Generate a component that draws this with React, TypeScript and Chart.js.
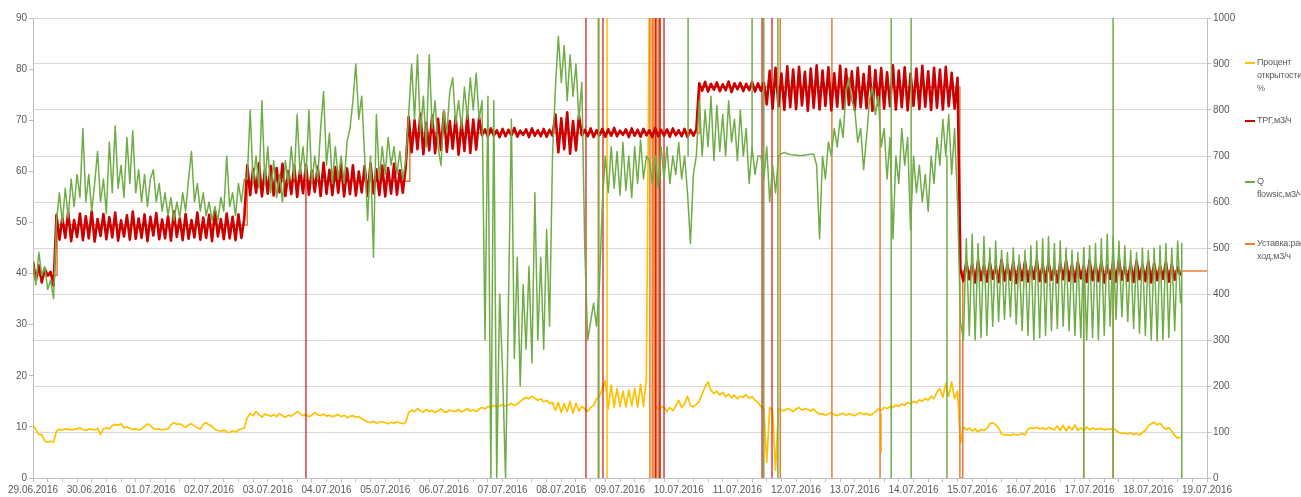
import React, { useEffect, useRef } from 'react';
import { Chart, registerables } from 'chart.js';

Chart.register(...registerables);

// sampling interval of the logged series, in days (x axis unit = day since 29.06.2016)
const STEP = 0.05;

const dateLabels = [
  '29.06.2016', '30.06.2016', '01.07.2016', '02.07.2016', '03.07.2016', '04.07.2016', '05.07.2016',
  '06.07.2016', '07.07.2016', '08.07.2016', '09.07.2016', '10.07.2016', '11.07.2016', '12.07.2016',
  '13.07.2016', '14.07.2016', '15.07.2016', '16.07.2016', '17.07.2016', '18.07.2016', '19.07.2016',
];

// Процент открытости, % (left axis)
const percentOpen = [
  10.3, 9.5, 8.5, 8.5, 7.2, 7.0, 7.2, 7.0,
  9.2, 9.5, 9.4, 9.6, 9.5, 9.4, 9.5,
  9.6, 9.8, 9.5, 9.3, 9.6, 9.5, 9.4, 9.7,
  8.5, 9.6, 9.8, 9.6, 10.2, 10.5, 10.3, 10.6,
  9.8, 10.0, 9.7, 9.5, 9.6, 9.4, 9.6, 10.1,
  10.6, 10.2, 9.7, 9.5, 9.6, 9.4, 9.5, 9.6,
  10.4, 10.8, 10.5, 10.6, 10.3, 9.9, 10.4, 10.6,
  10.2, 9.8, 9.6, 10.5, 10.8, 10.4, 10.1, 9.5,
  9.3, 9.1, 9.4, 9.0, 8.9, 9.2, 9.0, 9.4, 9.6, 9.8,
  11.8, 12.6, 12.2, 13.0, 12.4, 11.9, 12.5, 12.3,
  12.1, 12.4, 12.0, 12.6, 12.2, 11.9, 12.3, 12.1,
  12.5, 13.0, 12.6, 12.2, 12.4, 12.0, 12.3, 12.8,
  12.4, 12.2, 12.5, 12.1, 12.3, 12.0, 12.2, 12.4,
  12.0, 12.3, 11.8, 12.1, 12.2, 11.9, 12.0, 11.6,
  11.3, 11.0, 10.8, 11.1, 10.7, 10.9, 11.0, 10.8,
  10.6, 10.9, 10.7, 11.0, 10.8, 10.6, 10.9,
  12.8, 13.3, 13.0, 13.6, 13.1, 12.9, 13.4, 13.0, 13.2, 12.8,
  13.1, 13.5, 13.0, 12.9, 13.3, 13.1, 13.0, 13.4, 12.9, 13.2,
  13.6, 13.1, 13.3, 13.0, 13.5, 13.8,
  13.5, 14.0, 13.8, 14.2, 13.9, 14.1, 14.4, 14.0, 14.3, 14.6,
  14.2, 14.5, 15.0, 15.4, 15.8, 15.5, 16.0, 15.6, 15.2, 15.5,
  14.9, 15.2, 14.6, 14.8,
  13.2, 14.8, 12.8, 14.5, 13.0, 15.0, 12.7, 14.6, 13.1, 14.0,
  13.5, 13.0, 13.8, 14.2, 15.5, 16.0, 17.5,
  19.0, 13.5, 18.2, 13.8, 17.5, 14.0, 17.0, 13.9, 17.2, 14.1, 17.6, 13.8, 18.3, 14.0, 19.5,
  95, 95, 14.0, 13.5, 14.0, 13.8,
  13.0, 13.8, 13.2, 14.0, 15.2, 13.8, 14.5, 16.0, 14.2, 13.9, 14.4,
  15.0, 16.5, 17.8, 18.8, 17.2, 16.5, 17.0, 16.2, 16.8, 15.9,
  16.4, 15.7, 16.2, 15.5, 16.0, 15.8, 16.3, 15.6, 15.9, 15.2, 14.8,
  14.0, 13.5, 3.0, 13.8, 13.2, 1.5, 13.6, 13.2,
  13.2, 13.6, 13.4, 13.0, 13.5, 13.8, 13.3, 13.6, 13.4, 13.1, 13.5,
  12.8, 12.5, 12.6, 12.3, 12.5, 12.8, 12.4, 12.2, 12.5, 12.7,
  12.3, 12.6, 12.4, 12.2, 12.5, 12.8, 12.4, 12.6, 12.3, 12.5,
  13.0, 13.5, 13.2, 13.8,
  13.6, 14.0, 13.8, 14.3, 14.0, 14.5, 14.2, 14.8, 14.5, 15.0,
  14.7, 15.3, 15.0, 15.6, 15.2, 16.0, 15.5, 16.8, 17.5, 15.8,
  18.5, 16.0, 18.8, 15.5, 17.0,
  6.8, 10.0, 9.4, 9.8, 9.2, 9.6, 9.0, 9.5, 9.3, 9.7,
  10.6, 10.8, 10.4, 9.8, 8.6, 8.4, 8.5, 8.3, 8.6, 8.4,
  8.5, 8.7, 8.4, 9.6, 9.8, 9.7, 9.9, 9.6, 9.8, 9.5,
  9.9, 9.7, 9.4, 10.2, 9.3, 10.3, 9.2, 10.1, 9.4, 10.4,
  9.3, 9.8, 9.2, 10.0, 9.4, 9.8, 9.5, 9.6, 9.7, 9.4,
  9.6, 9.5, 9.7, 9.3, 8.9, 8.7, 8.8, 8.6, 8.8, 8.5,
  8.7, 8.4, 8.9, 9.3, 10.2, 10.6, 10.9, 10.4, 10.7, 10.0,
  9.6, 9.8, 9.2, 8.3, 7.8, 8.0,
];

// ТРГ, м3/ч (right axis)
const trgFlow = [
  470, 430, 462, 425, 455, 440, 448, 418,
  572, 518, 566, 522, 578, 515, 561, 524, 575, 517,
  569, 521, 580, 514, 563, 526, 574, 519, 567, 523,
  577, 516, 560, 525, 571, 518, 579, 520, 564, 522,
  573, 515, 568, 527, 576, 519, 562, 521, 570, 516,
  579, 524, 565, 517, 574, 520, 561, 523, 577, 518,
  566, 522, 572, 515, 580, 525, 563, 519, 575, 521,
  568, 517, 573, 522, 565,
  680, 615, 672, 620, 684, 612, 669, 618, 678, 614,
  674, 621, 683, 613, 667, 617, 679, 611, 671, 619,
  681, 616, 668, 622, 677, 613, 685, 618, 670, 615,
  676, 620, 682, 612, 673, 617, 680, 614, 666, 621,
  678, 613, 684, 619, 671, 615, 679, 612, 674, 618,
  683, 616, 669, 620, 677,
  785, 708, 778, 715, 792, 704, 772, 712, 788, 706,
  781, 713, 795, 709, 776, 716, 786, 703, 774, 711,
  790, 707, 779, 714, 784, 745,
  758, 742, 760, 744, 756, 741, 759, 743, 757, 745,
  761, 742, 755, 746, 758, 741, 760, 744, 756, 743,
  759, 742, 757, 744,
  790, 708, 782, 715, 795, 705, 776, 712, 788, 745,
  757, 743, 760, 741, 756, 745, 759, 742, 758, 744,
  761, 743, 755, 746, 758, 741, 760, 744, 757, 742,
  759, 745, 756, 741, 761, 743, 757, 744, 758, 742,
  760, 745, 756, 743, 759, 741, 757, 744, 758,
  858, 842, 861, 840, 857, 844, 860, 841, 856, 843,
  862, 839, 858, 845, 859, 841, 857, 843, 861, 840,
  858, 842, 860,
  812, 885, 803, 892, 808, 879, 800, 895, 806, 888,
  802, 894, 810, 883, 798, 890, 805, 897, 801, 886,
  809, 893, 799, 880, 807, 896, 803, 889, 811, 884,
  800, 892, 806, 878, 804, 895, 798, 887, 810, 891,
  803, 882, 808, 897, 801, 886, 806, 893, 799, 879,
  809, 890, 802, 896, 807, 884, 800, 892, 805, 888,
  801, 894, 808, 881, 803, 870,
  455, 428, 470, 432, 465, 425, 472, 430, 462, 427,
  468, 433, 460, 426, 474, 429, 463, 431, 469, 424,
  466, 430, 471, 427, 461, 433, 473, 428, 464, 426,
  470, 431, 459, 425, 467, 432, 472, 429, 463, 427,
  469, 434, 461, 426, 473, 430, 465, 428, 471, 425,
  462, 433, 468, 427, 474, 431, 460, 429, 466, 426,
  472, 432, 463, 428, 470, 425, 467, 430, 461, 433,
  469, 427, 464, 431, 458, 440,
];

// Q flowsic, м3/ч (right axis)
const qFlowsic = [
  470, 420, 490, 440, 460, 410, 430, 390,
  560, 620, 555, 630, 565, 650, 590, 660, 610, 760,
  600, 660, 580, 640, 710, 600, 650, 575, 730, 620,
  765, 630, 680, 610, 740, 640, 755, 620, 670, 600,
  660, 590, 650, 670, 600, 640, 580, 620, 570, 610,
  560, 600, 565, 620, 580, 650, 710, 600, 640, 580,
  620, 570, 600, 560, 590, 560, 610, 580, 700, 590,
  620, 570, 640, 600, 650,
  650, 800, 640, 700, 630, 820, 640, 720, 620, 690,
  610, 660, 600, 690, 640, 720, 650, 790, 660, 720,
  650, 800, 640, 700, 650, 760, 840, 680, 750, 640,
  720, 650, 700, 640, 730, 760, 820, 900, 780, 830,
  700, 560, 700, 480, 790, 650, 720, 660, 740, 680,
  720, 660, 710, 650, 690,
  790, 900, 780, 920, 750, 830, 720, 920, 760, 820,
  720, 680, 800, 750, 840, 870, 770, 820, 760, 850,
  780, 870, 800, 880, 780, 820,
  300, 830, 0, 820, 0, 400, 230, 0, 380, 780,
  260, 480, 200, 420, 280, 460, 250, 620, 300, 480,
  280, 540, 330, 700,
  850, 960, 860, 940, 820, 920, 830, 900, 780, 860,
  500, 300, 340, 380, 330, 420, 600,
  700, 620, 720, 630, 710, 615, 730, 625, 700, 610, 720, 640, 735, 650, 700,
  690, 640, 700, 630, 720, 650,
  720, 640, 700, 660, 730, 650, 700, 620, 510, 660, 700,
  820, 700, 800, 720, 830, 690, 810, 710, 790, 700,
  820, 730, 780, 690, 800, 700, 760, 640, 720, 660, 700,
  700, 650, 720, 600, 680, 620, 700, 705,
  708, 705, 703, 702, 702, 701, 701, 702, 703, 704, 704,
  680, 520, 700, 650, 730, 700, 760, 720, 780, 740,
  840, 870, 820, 800, 730, 760, 670, 740, 820, 850,
  790, 830, 720, 760, 650, 740, 520, 700, 640, 760,
  680, 740, 540, 700, 620, 680, 600, 660, 580, 700,
  640, 740, 680, 780, 700, 790, 660, 760, 600,
  340, 300, 520, 310, 530, 300, 510, 305, 525, 310,
  500, 330, 515, 340, 495, 345, 490, 350, 500, 335,
  485, 320, 495, 310, 505, 300, 515, 305, 520, 310,
  525, 320, 510, 325, 515, 330, 500, 320, 495, 310,
  490, 305, 500, 300, 505, 305, 510, 300, 520, 310,
  530, 330, 525, 345, 515, 350, 505, 340, 495, 325,
  490, 315, 500, 310, 495, 300, 500, 298, 505, 300,
  510, 305, 500, 320, 515, 380,
];

// Уставка: расход, м3/ч (right axis, step function)
const setpointDays = [0, 0.41, 3.65, 6.42, 11.36, 15.79, 15.84, 20];
const setpointValues = [440, 550, 645, 750, 850, 0, 450, 450];

// short vertical excursions (dropouts / off-scale values)
const trgSpikeDays = [4.65, 9.42, 9.71, 10.61, 10.68, 10.75, 12.42, 12.59];
const trgSpikeFrom = [640, 0, 0, 0, 0, 0, 0, 0];
const trgSpikeTo = [0, 1100, 1100, 1100, 1100, 1100, 1100, 1100];

const qSpikeDays = [9.64, 11.16, 12.25, 12.45, 12.69, 14.62, 14.96, 15.57, 17.9, 18.4, 19.57];
const qSpikeFrom = [0, 1100, 1100, 0, 0, 0, 0, 700, 500, 1100, 510];
const qSpikeTo = [1100, 700, 700, 1100, 1100, 1100, 1100, 0, 0, 0, 0];

const setSpikeDays = [9.63, 10.51, 10.55, 10.58, 10.61, 10.65, 10.68, 12.73, 13.61, 14.43, 17.9, 18.4];
const setSpikeFrom = [0, 0, 0, 0, 0, 0, 0, 0, 0, 850, 450, 450];
const setSpikeTo = [1100, 1100, 1100, 1100, 1100, 1100, 1100, 1100, 1100, 0, 0, 0];

const pctSpikeDays = [9.78, 14.45];
const pctSpikeFrom = [0, 12.5];
const pctSpikeTo = [95, 5];

const C_YELLOW = '#FFC000';
const C_RED = '#CC0000';
const C_GREEN = '#70AD47';
const C_ORANGE = '#ED7D31';
const TXT = '#595959';
const FONT = "'Liberation Sans', Arial, sans-serif";

const series = (vals: number[]) => vals.map((v, i) => ({ x: i * STEP, y: v }));
const spikes = (days: number[], from: number[], to: number[]) =>
  days.flatMap((d, i) => [
    { x: d, y: from[i] },
    { x: d, y: to[i] },
    { x: d, y: null as any },
  ]);

const legendItems = [
  { color: C_YELLOW, lines: ['Процент', 'открытости,', '%'], y: 62 },
  { color: C_RED, lines: ['ТРГ,м3/ч'], y: 120 },
  { color: C_GREEN, lines: ['Q', 'flowsic,м3/ч'], y: 181 },
  { color: C_ORANGE, lines: ['Уставка:рас', 'ход,м3/ч'], y: 243 },
];

export default function App() {
  const ref = useRef<HTMLCanvasElement | null>(null);

  useEffect(() => {
    document.body.style.margin = '0';
    const canvas = ref.current;
    if (!canvas) return;
    const line = (extra: any) => ({
      pointRadius: 0,
      pointHoverRadius: 0,
      tension: 0,
      fill: false,
      borderJoinStyle: 'round',
      spanGaps: false,
      ...extra,
    });
    const chart = new Chart(canvas, {
      type: 'line',
      data: {
        datasets: [
          line({ label: 'Q flowsic,м3/ч', data: series(qFlowsic), borderColor: C_GREEN, borderWidth: 1.5, yAxisID: 'yR', order: 1 }),
          line({ label: 'Q spikes', data: spikes(qSpikeDays, qSpikeFrom, qSpikeTo), borderColor: C_GREEN, borderWidth: 1.5, yAxisID: 'yR', order: 1 }),
          line({ label: 'ТРГ,м3/ч', data: series(trgFlow), borderColor: C_RED, borderWidth: 2.6, yAxisID: 'yR', order: 2 }),
          line({ label: 'ТРГ spikes', data: spikes(trgSpikeDays, trgSpikeFrom, trgSpikeTo), borderColor: 'rgba(204,0,0,0.75)', borderWidth: 1.5, yAxisID: 'yR', order: 2 }),
          line({ label: 'Уставка:расход,м3/ч', data: setpointDays.map((d, i) => ({ x: d, y: setpointValues[i] })), stepped: true, borderColor: C_ORANGE, borderWidth: 1.5, yAxisID: 'yR', order: 3 }),
          line({ label: 'Уставка spikes', data: spikes(setSpikeDays, setSpikeFrom, setSpikeTo), borderColor: C_ORANGE, borderWidth: 1.5, yAxisID: 'yR', order: 3 }),
          line({ label: 'Процент открытости, %', data: series(percentOpen), borderColor: C_YELLOW, borderWidth: 1.7, yAxisID: 'yL', order: 4 }),
          line({ label: 'Процент spikes', data: spikes(pctSpikeDays, pctSpikeFrom, pctSpikeTo), borderColor: C_YELLOW, borderWidth: 1.5, yAxisID: 'yL', order: 4 }),
        ],
      },
      options: {
        animation: false,
        responsive: false,
        maintainAspectRatio: false,
        events: [],
        layout: { padding: { top: 18, left: 0, right: 54, bottom: 0 } },
        plugins: { legend: { display: false }, tooltip: { enabled: false } },
        scales: {
          x: {
            type: 'linear',
            min: 0,
            max: 20,
            afterFit: (s: any) => { s.height = 19; },
            ticks: {
              stepSize: 0.25,
              autoSkip: false,
              maxRotation: 0,
              minRotation: 0,
              padding: 2,
              color: TXT,
              font: { family: FONT, size: 10 },
              callback: (v: any) => (Number.isInteger(v) ? dateLabels[v] : ''),
            },
            grid: { drawOnChartArea: false, drawTicks: true, tickLength: 4, color: '#BFBFBF' },
            border: { color: '#BFBFBF' },
          },
          yL: {
            type: 'linear',
            position: 'left',
            min: 0,
            max: 90,
            afterFit: (s: any) => { s.width = 33; },
            ticks: { stepSize: 10, padding: 2, color: TXT, font: { family: FONT, size: 10 }, callback: (v: any) => String(v) },
            grid: { drawOnChartArea: false, drawTicks: true, tickLength: 4, color: '#BFBFBF' },
            border: { color: '#BFBFBF' },
          },
          yR: {
            type: 'linear',
            position: 'right',
            min: 0,
            max: 1000,
            afterFit: (s: any) => { s.width = 40; },
            ticks: { stepSize: 100, padding: 2, color: TXT, font: { family: FONT, size: 10 }, callback: (v: any) => String(v) },
            grid: { drawOnChartArea: true, drawTicks: true, tickLength: 4, color: '#D9D9D9', tickColor: '#BFBFBF' },
            border: { color: '#BFBFBF' },
          },
        },
      } as any,
    });
    return () => chart.destroy();
  }, []);

  return (
    <div style={{ position: 'relative', width: 1301, height: 497, overflow: 'hidden', background: '#fff' }}>
      <canvas ref={ref} width={1301} height={497} style={{ position: 'absolute', left: 0, top: 0, width: 1301, height: 497 }} />
      {legendItems.map((it, k) => (
        <div key={k}>
          <div style={{ position: 'absolute', left: 1245, top: it.y, width: 10, height: 1.5, background: it.color }} />
          <div
            style={{
              position: 'absolute',
              left: 1257,
              top: it.y - 6.5,
              fontFamily: FONT,
              fontSize: 9,
              letterSpacing: '-0.2px',
              lineHeight: '13px',
              color: TXT,
              whiteSpace: 'nowrap',
            }}
          >
            {it.lines.map((l, j) => (
              <div key={j}>{l}</div>
            ))}
          </div>
        </div>
      ))}
    </div>
  );
}
